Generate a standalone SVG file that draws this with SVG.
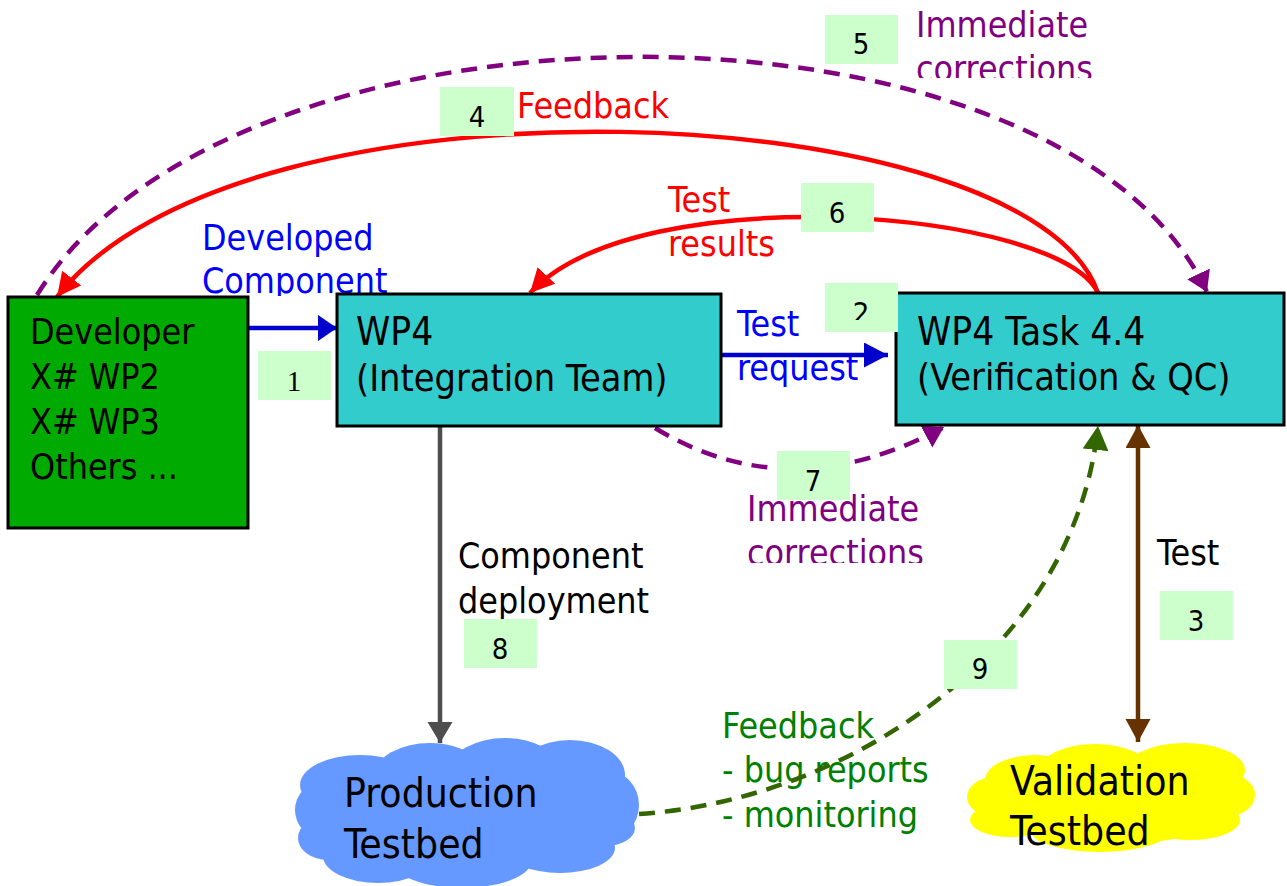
<svg xmlns="http://www.w3.org/2000/svg" width="1287" height="886" viewBox="0 0 1287 886">
<style>
.t{font-family:"DejaVu Sans Condensed","DejaVu Sans",sans-serif;font-stretch:condensed;font-size:35.5px}
.big{font-size:38.5px}
.mid{font-size:37.5px}
.cl{font-size:40.5px;fill:#000}
.num{font-family:"DejaVu Sans Condensed","DejaVu Sans",sans-serif;font-stretch:condensed;font-size:29px;text-anchor:middle;fill:#000}
.badge{fill:#CCFFCC}
.box{stroke:#000;stroke-width:3}
.ln{fill:none;stroke-width:4.5}
.dash{stroke-dasharray:16 10}
</style>
<defs>
<marker id="aRed" markerUnits="userSpaceOnUse" markerWidth="26" markerHeight="26" refX="24" refY="12" orient="auto"><path d="M0,0 L24,12 L0,24 z" fill="#FF0000"/></marker>
<marker id="aPur" markerUnits="userSpaceOnUse" markerWidth="26" markerHeight="26" refX="20" refY="12.5" orient="auto"><path d="M0,0 L20,12.5 L0,25 z" fill="#800080"/></marker>
<marker id="aBlue1" markerUnits="userSpaceOnUse" markerWidth="26" markerHeight="28" refX="19" refY="13" orient="auto"><path d="M0,0 L19,13 L0,26 z" fill="#0000CC"/></marker>
<marker id="aBlue2" markerUnits="userSpaceOnUse" markerWidth="26" markerHeight="26" refX="24" refY="12.5" orient="auto"><path d="M0,0 L24,12.5 L0,25 z" fill="#0000CC"/></marker>
<marker id="aGray" markerUnits="userSpaceOnUse" markerWidth="26" markerHeight="26" refX="21" refY="12.5" orient="auto"><path d="M0,0 L21,12.5 L0,25 z" fill="#4D4D4D"/></marker>
<marker id="aBrown" markerUnits="userSpaceOnUse" markerWidth="26" markerHeight="26" refX="23" refY="12.5" orient="auto-start-reverse"><path d="M0,0 L23,12.5 L0,25 z" fill="#663300"/></marker>
<marker id="aGreen" markerUnits="userSpaceOnUse" markerWidth="26" markerHeight="26" refX="24" refY="13" orient="auto"><path d="M0,0 L24,13 L0,26 z" fill="#336600"/></marker>
<clipPath id="cComp" clipPathUnits="userSpaceOnUse"><rect x="0" y="0" width="1287" height="296"/></clipPath>
<clipPath id="cCorr1" clipPathUnits="userSpaceOnUse"><rect x="0" y="0" width="1287" height="78"/></clipPath>
<clipPath id="cCorr2" clipPathUnits="userSpaceOnUse"><rect x="0" y="0" width="1287" height="563"/></clipPath>
<clipPath id="c2" clipPathUnits="userSpaceOnUse"><rect x="0" y="0" width="1287" height="320"/></clipPath>
</defs>

<g id="labels" class="t">
<g fill="#0000FF"><text x="202" y="250">Developed</text><text x="202" y="293" clip-path="url(#cComp)">Component</text></g>
<text x="517" y="118" fill="#FF0000">Feedback</text>
<g fill="#800080"><text x="916" y="37">Immediate</text><text x="916" y="81" clip-path="url(#cCorr1)">corrections</text></g>
<g fill="#FF0000"><text x="668" y="212">Test</text><text x="668" y="256">results</text></g>
<g fill="#0000FF"><text x="737" y="336">Test</text><text x="737" y="380">request</text></g>
<g fill="#800080"><text x="747" y="521">Immediate</text><text x="747" y="565" clip-path="url(#cCorr2)">corrections</text></g>
<text x="1157" y="565" fill="#000">Test</text>
<g fill="#000"><text x="458" y="568">Component</text><text x="458" y="613">deployment</text></g>
<g fill="#008000"><text x="722" y="738">Feedback</text><text x="722" y="782">- bug reports</text><text x="722" y="827">- monitoring</text></g>
</g>

<g id="connectors">
<path class="ln dash" stroke="#800080" d="M37,295 C232,-22 1060,-22 1207,292" marker-end="url(#aPur)"/>
<path class="ln" stroke="#FF0000" d="M1098,293 C1030,95 240,60 57,297" marker-end="url(#aRed)"/>
<path class="ln" stroke="#FF0000" d="M1098,293 C1060,210 640,175 530,293" marker-end="url(#aRed)"/>
<path class="ln" stroke="#0000CC" d="M248,328 L337,328" marker-end="url(#aBlue1)"/>
<path class="ln" stroke="#0000CC" d="M721,355 L888,355" marker-end="url(#aBlue2)"/>
<path class="ln dash" stroke="#800080" d="M655,428 Q790,510 944,427" marker-end="url(#aPur)"/>
<path class="ln" stroke="#4D4D4D" stroke-width="3.5" d="M440,426 L440,743" marker-end="url(#aGray)"/>
<path class="ln" stroke="#663300" d="M1138,425 L1138,742" marker-start="url(#aBrown)" marker-end="url(#aBrown)"/>
<path class="ln dash" stroke="#336600" stroke-width="4" d="M639,814 C850,800 1075,650 1098,426" marker-end="url(#aGreen)"/>
</g>

<g id="developer">
<rect class="box" x="8" y="297" width="240" height="231" fill="#00AA00"/>
<g class="t" fill="#000"><text x="30" y="344">Developer</text><text x="30" y="389">X# WP2</text><text x="30" y="434">X# WP3</text><text x="30" y="479">Others ...</text></g>
</g>
<g id="wp4">
<rect class="box" x="337" y="294" width="384" height="132" fill="#33CCCC"/>
<text class="t big" x="356" y="345" fill="#000">WP4</text>
<text class="t mid" x="356" y="391" fill="#000">(Integration Team)</text>
</g>
<g id="task44">
<rect class="box" x="896" y="293" width="388" height="132" fill="#33CCCC"/>
<text class="t big" x="917" y="345" fill="#000">WP4 Task 4.4</text>
<text class="t mid" x="917" y="390" fill="#000">(Verification &amp; QC)</text>
</g>
<g id="production">
<g fill="#6699FF">
<ellipse cx="470" cy="812" rx="150" ry="55"/>
<ellipse cx="360" cy="785" rx="60" ry="30"/>
<ellipse cx="430" cy="775" rx="55" ry="32"/>
<ellipse cx="505" cy="770" rx="55" ry="32"/>
<ellipse cx="570" cy="775" rx="55" ry="35"/>
<ellipse cx="610" cy="805" rx="29" ry="33"/>
<ellipse cx="322" cy="810" rx="27" ry="28"/>
<ellipse cx="328" cy="838" rx="30" ry="22"/>
<ellipse cx="378" cy="856" rx="55" ry="27"/>
<ellipse cx="462" cy="860" rx="70" ry="28"/>
<ellipse cx="560" cy="848" rx="55" ry="25"/>
<ellipse cx="605" cy="828" rx="30" ry="18"/>
</g>
<text class="t cl" x="344" y="807">Production</text>
<text class="t cl" x="344" y="858">Testbed</text>
</g>
<g id="validation">
<g fill="#FFFF00">
<ellipse cx="1110" cy="800" rx="125" ry="45"/>
<ellipse cx="1035" cy="780" rx="50" ry="25"/>
<ellipse cx="1095" cy="770" rx="55" ry="26"/>
<ellipse cx="1185" cy="770" rx="60" ry="27"/>
<ellipse cx="1225" cy="795" rx="30" ry="22"/>
<ellipse cx="995" cy="797" rx="28" ry="20"/>
<ellipse cx="1010" cy="820" rx="40" ry="17"/>
<ellipse cx="1100" cy="830" rx="70" ry="22"/>
<ellipse cx="1190" cy="820" rx="50" ry="20"/>
</g>
<text class="t cl" x="1010" y="795">Validation</text>
<text class="t cl" x="1010" y="845">Testbed</text>
</g>

<g id="badges">
<g id="b1"><rect class="badge" x="258" y="351" width="73" height="49"/><text class="num" x="294" y="391" style="font-family:'Liberation Serif',serif;font-stretch:normal">1</text></g>
<g id="b2"><rect class="badge" x="825" y="283" width="73" height="49"/><text class="num" x="861" y="323" clip-path="url(#c2)">2</text></g>
<g id="b3"><rect class="badge" x="1160" y="591" width="73" height="49"/><text class="num" x="1196" y="631">3</text></g>
<g id="b4"><rect class="badge" x="440" y="87" width="74" height="49"/><text class="num" x="477" y="127">4</text></g>
<g id="b5"><rect class="badge" x="825" y="15" width="73" height="49"/><text class="num" x="861" y="54">5</text></g>
<g id="b6"><rect class="badge" x="801" y="183" width="73" height="49"/><text class="num" x="837" y="223">6</text></g>
<g id="b7"><rect class="badge" x="777" y="451" width="73" height="49"/><text class="num" x="813" y="491">7</text></g>
<g id="b8"><rect class="badge" x="464" y="619" width="73" height="49"/><text class="num" x="500" y="659">8</text></g>
<g id="b9"><rect class="badge" x="944" y="640" width="73" height="49"/><text class="num" x="980" y="679">9</text></g>
</g>
</svg>
